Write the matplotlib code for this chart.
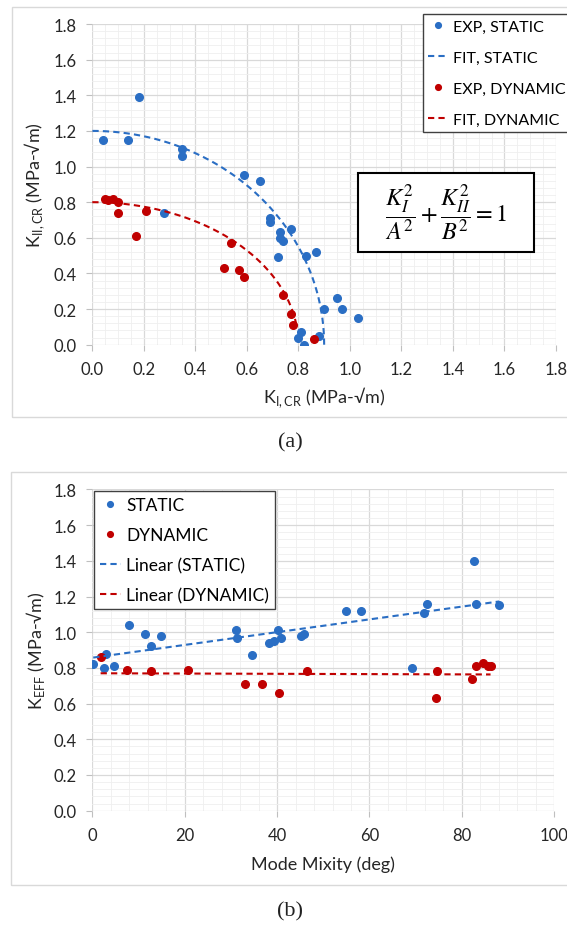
import matplotlib
matplotlib.use("Agg")
import matplotlib.pyplot as plt
import numpy as np
from matplotlib.patches import Rectangle
from matplotlib.ticker import MultipleLocator, FormatStrFormatter

plt.rcParams['font.family'] = ['Lato', 'DejaVu Sans']

# --- (a) critical K_I / K_II ---
static_KI = [0.04, 0.14, 0.18, 0.35, 0.35, 0.28, 0.59, 0.65, 0.69, 0.69, 0.73, 0.73, 0.74,
             0.77, 0.72, 0.83, 0.87, 0.90, 0.95, 0.97, 1.03, 0.81, 0.80, 0.82, 0.88]
static_KII = [1.15, 1.15, 1.39, 1.10, 1.06, 0.74, 0.95, 0.92, 0.71, 0.69, 0.63, 0.60, 0.58,
              0.65, 0.49, 0.50, 0.52, 0.20, 0.26, 0.20, 0.15, 0.07, 0.04, 0.00, 0.05]
dynamic_KI = [0.05, 0.06, 0.08, 0.10, 0.10, 0.17, 0.21, 0.54, 0.51, 0.57, 0.59, 0.74, 0.77, 0.78, 0.86]
dynamic_KII = [0.82, 0.81, 0.82, 0.80, 0.74, 0.61, 0.75, 0.57, 0.43, 0.42, 0.38, 0.28, 0.17, 0.11, 0.03]

# ellipse fit K_I^2/A^2 + K_II^2/B^2 = 1
A_static, B_static = 0.90, 1.20
A_dynamic, B_dynamic = 0.80, 0.80
dyn_fit_end = 0.795

# --- (b) effective K vs mode mixity ---
static_mm = [0.2, 2.9, 2.6, 4.8, 8.0, 11.5, 12.6, 14.9, 31.1, 31.3, 34.6, 38.3, 39.3, 40.1,
             40.9, 45.1, 45.8, 54.9, 58.1, 69.3, 72.4, 71.9, 82.6, 83.0, 88.1]
static_keff = [0.82, 0.88, 0.80, 0.81, 1.04, 0.99, 0.92, 0.98, 1.01, 0.97, 0.87, 0.94, 0.95, 1.01,
               0.97, 0.98, 0.99, 1.12, 1.12, 0.80, 1.16, 1.11, 1.40, 1.16, 1.15]
dynamic_mm = [1.8, 7.6, 12.7, 20.8, 33.1, 36.8, 40.5, 46.5, 74.6, 74.3, 82.1, 83.0, 84.6, 85.7, 86.2]
dynamic_keff = [0.86, 0.79, 0.78, 0.79, 0.71, 0.71, 0.66, 0.78, 0.78, 0.63, 0.74, 0.81, 0.83, 0.81, 0.81]

blue = '#2A6EC4'
red = '#C00000'
txt = '#262626'
W, H = 567, 928

fig = plt.figure(figsize=(W / 100, H / 100), dpi=100)

# outer chart frames (like the excel chart area)
fig.patches.append(Rectangle((12 / W, 1 - 418 / H), 1.2, 410 / H, transform=fig.transFigure,
                             fill=False, edgecolor='#d9d9d9', lw=1))
fig.patches.append(Rectangle((11 / W, 1 - 886 / H), 1.2, 413 / H, transform=fig.transFigure,
                             fill=False, edgecolor='#d9d9d9', lw=1))


def style(ax, xmax, xmaj, xminor_n, xfmt):
    ax.set_xlim(0, xmax)
    ax.set_ylim(0, 1.8)
    ax.xaxis.set_major_locator(MultipleLocator(xmaj))
    ax.xaxis.set_minor_locator(MultipleLocator(xmaj / xminor_n))
    ax.yaxis.set_major_locator(MultipleLocator(0.2))
    ax.yaxis.set_minor_locator(MultipleLocator(0.04))
    ax.xaxis.set_major_formatter(FormatStrFormatter(xfmt))
    ax.yaxis.set_major_formatter(FormatStrFormatter('%.1f'))
    for s in ax.spines.values():
        s.set_visible(False)
    ax.set_axisbelow(True)
    ax.grid(which='major', color='#d9d9d9', lw=0.9)
    ax.grid(which='minor', color='#efefef', lw=0.6)
    ax.tick_params(which='major', direction='out', length=4.5, width=0.8, color='#bfbfbf',
                   labelsize=12, labelcolor=txt, pad=7)
    ax.tick_params(which='minor', length=0)


dash = (0, (3, 2))

# ---------- top chart ----------
ax1 = fig.add_axes([92.3 / W, 1 - 345.7 / H, 463.7 / W, 320.7 / H])
style(ax1, 1.8, 0.2, 4, '%.1f')

th = np.linspace(0, np.pi / 2, 200)
ax1.plot(static_KI, static_KII, 'o', color=blue, ms=5.5, label='EXP, STATIC', zorder=3)
ax1.plot(A_static * np.cos(th), B_static * np.sin(th), color=blue, lw=1.5, ls=dash,
         label='FIT, STATIC', zorder=3)
ax1.plot(dynamic_KI, dynamic_KII, 'o', color=red, ms=5.5, label='EXP, DYNAMIC', zorder=3)
xd = np.linspace(0, dyn_fit_end, 200)
ax1.plot(xd, B_dynamic * np.sqrt(1 - (xd / A_dynamic) ** 2), color=red, lw=1.5, ls=dash,
         label='FIT, DYNAMIC', zorder=3)

ax1.set_xlabel('K$_{\\mathregular{I,CR}}$ (MPa-√m)', fontsize=13, color=txt)
ax1.set_ylabel('K$_{\\mathregular{II,CR}}$ (MPa-√m)', fontsize=13, color=txt)
ax1.xaxis.set_label_coords(0.5, -0.163)
ax1.xaxis.label.set_va('center')
ax1.yaxis.set_label_coords(-0.124, 0.5)
ax1.yaxis.label.set_va('center')

ax1.legend(loc='upper left', bbox_to_anchor=(422.7 / W, 1 - 15 / H), bbox_transform=fig.transFigure,
           borderaxespad=0, fancybox=False, framealpha=1, edgecolor='#404040', fontsize=11.5,
           handlelength=1.25, handletextpad=0.3, labelspacing=1.05, borderpad=0.35, markerscale=0.75)

ax1.add_patch(Rectangle((0.572, 0.289), 0.381, 0.246, transform=ax1.transAxes,
                        facecolor='white', edgecolor='black', lw=1.5, zorder=5))
ax1.text(0.762, 0.412, r'$\dfrac{K_I^2}{A^2}+\dfrac{K_{II}^2}{B^2}=1$', transform=ax1.transAxes,
         ha='center', va='center', fontsize=17.5, math_fontfamily='stix', zorder=6)

fig.text(290 / W, 1 - 443 / H, '(a)', ha='center', va='center', fontsize=16,
         family='Liberation Serif', color='#222222')

# ---------- bottom chart ----------
ax2 = fig.add_axes([92.3 / W, 1 - 811.7 / H, 462 / W, 321.3 / H])
style(ax2, 100, 20, 5, '%d')

ax2.plot(static_mm, static_keff, 'o', color=blue, ms=5.5, label='STATIC', zorder=3)
ax2.plot(dynamic_mm, dynamic_keff, 'o', color=red, ms=5.5, label='DYNAMIC', zorder=3)
ps = np.polyfit(static_mm, static_keff, 1)
xs = np.array([min(static_mm), max(static_mm)])
ax2.plot(xs, np.polyval(ps, xs), color=blue, lw=1.5, ls=dash, label='Linear (STATIC)', zorder=3)
pdn = np.polyfit(dynamic_mm, dynamic_keff, 1)
xdn = np.array([min(dynamic_mm), max(dynamic_mm)])
ax2.plot(xdn, np.polyval(pdn, xdn), color=red, lw=1.5, ls=dash, label='Linear (DYNAMIC)', zorder=3)

ax2.set_xlabel('Mode Mixity (deg)', fontsize=13, color=txt)
ax2.set_ylabel('K$_{\\mathregular{EFF}}$ (MPa-√m)', fontsize=13, color=txt)
ax2.xaxis.set_label_coords(0.5, -0.165)
ax2.xaxis.label.set_va('center')
ax2.yaxis.set_label_coords(-0.124, 0.5)
ax2.yaxis.label.set_va('center')

ax2.legend(loc='upper left', bbox_to_anchor=(94 / W, 1 - 492 / H), bbox_transform=fig.transFigure,
           borderaxespad=0, fancybox=False, framealpha=1, edgecolor='#404040', fontsize=12.5,
           handlelength=1.2, handletextpad=0.3, labelspacing=0.8, borderpad=0.35, markerscale=0.75)

fig.text(290 / W, 1 - 912 / H, '(b)', ha='center', va='center', fontsize=16,
         family='Liberation Serif', color='#222222')

fig.savefig('out.png', dpi=100)
